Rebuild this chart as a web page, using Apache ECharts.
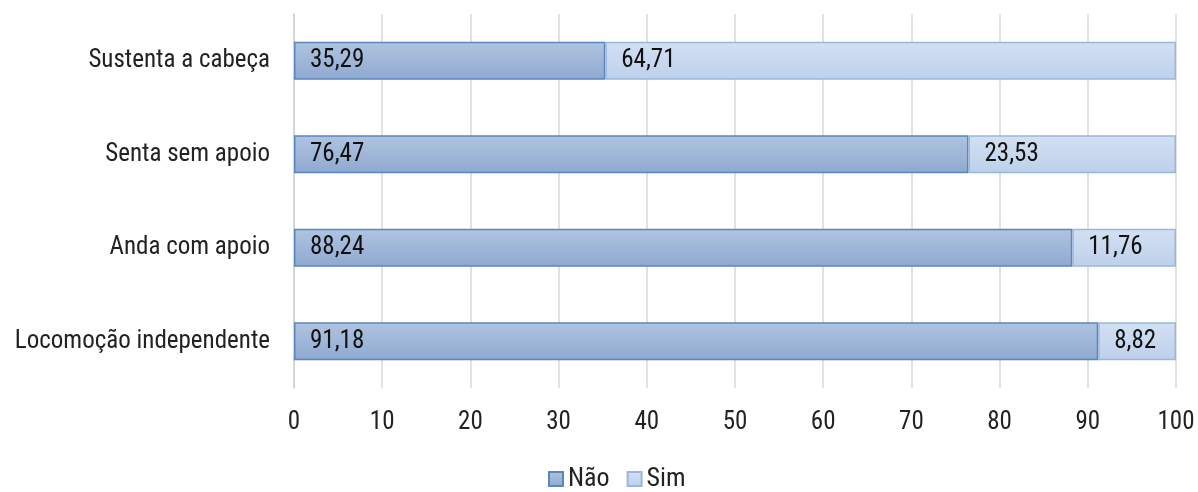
<!DOCTYPE html>
<html>
<head>
<meta charset="utf-8">
<script src="https://cdn.jsdelivr.net/npm/echarts@6/dist/echarts.min.js"></script>
<style>
  html, body { margin: 0; padding: 0; background: #fff; }
  #chart { width: 1198px; height: 492px; }
</style>
</head>
<body>
<div id="chart"></div>
<script>
// categorias de baixo para cima (ordem do eixo)
const categories = ["Locomoção independente", "Anda com apoio", "Senta sem apoio", "Sustenta a cabeça"];
const naoValues = [91.18, 88.24, 76.47, 35.29];
const simValues = [8.82, 11.76, 23.53, 64.71];
const xTicks = [0, 10, 20, 30, 40, 50, 60, 70, 80, 90, 100];

const fontName = "'Liberation Sans Narrow', 'Roboto Condensed', 'Liberation Sans', sans-serif";

const chart = echarts.init(document.getElementById("chart"));

const fmt = p => p.value.toFixed(2).replace(".", ",");

const option = {
  textStyle: { fontFamily: fontName },
  animation: false,
  grid: { left: 294, right: 22, top: 14, bottom: 104, containLabel: false },
  legend: {
    top: 461,
    left: 543,
    icon: "rect",
    itemWidth: 14,
    itemHeight: 14,
    itemGap: 17,
    textStyle: { fontSize: 26, color: "#222", fontFamily: fontName },
    data: ["Não", "Sim"]
  },
  xAxis: {
    type: "value",
    min: xTicks[0],
    max: xTicks[xTicks.length - 1],
    interval: 10,
    axisLine: { show: false },
    axisTick: { show: false },
    axisLabel: { fontSize: 25, color: "#222", margin: 22, fontFamily: fontName },
    splitLine: { lineStyle: { color: "#d9d9d9", width: 1.5 } }
  },
  yAxis: {
    type: "category",
    data: categories,
    axisLine: { show: true, lineStyle: { color: "#d0d0d0", width: 1.5 } },
    axisTick: { show: false },
    axisLabel: { fontSize: 25, color: "#222", margin: 24, fontFamily: fontName }
  },
  series: [
    {
      name: "Não",
      type: "bar",
      stack: "total",
      barWidth: 38,
      data: naoValues,
      itemStyle: {
        color: new echarts.graphic.LinearGradient(0, 0, 0, 1, [
          { offset: 0, color: "#b0c4e0" },
          { offset: 1, color: "#8ea9d0" }
        ]),
        borderColor: "#5a87c0",
        borderWidth: 1.5
      },
      label: {
        show: true,
        position: "insideLeft",
        distance: 16,
        formatter: fmt,
        fontSize: 25,
        color: "#111",
        fontFamily: fontName
      }
    },
    {
      name: "Sim",
      type: "bar",
      stack: "total",
      barWidth: 38,
      data: simValues,
      itemStyle: {
        color: new echarts.graphic.LinearGradient(0, 0, 0, 1, [
          { offset: 0, color: "#d3e0f2" },
          { offset: 1, color: "#bdd0eb" }
        ]),
        borderColor: "#9ab6dd",
        borderWidth: 1.5
      },
      label: {
        show: true,
        position: "insideLeft",
        distance: 16,
        formatter: fmt,
        fontSize: 25,
        color: "#111",
        fontFamily: fontName
      }
    }
  ]
};

chart.setOption(option);
</script>
</body>
</html>
